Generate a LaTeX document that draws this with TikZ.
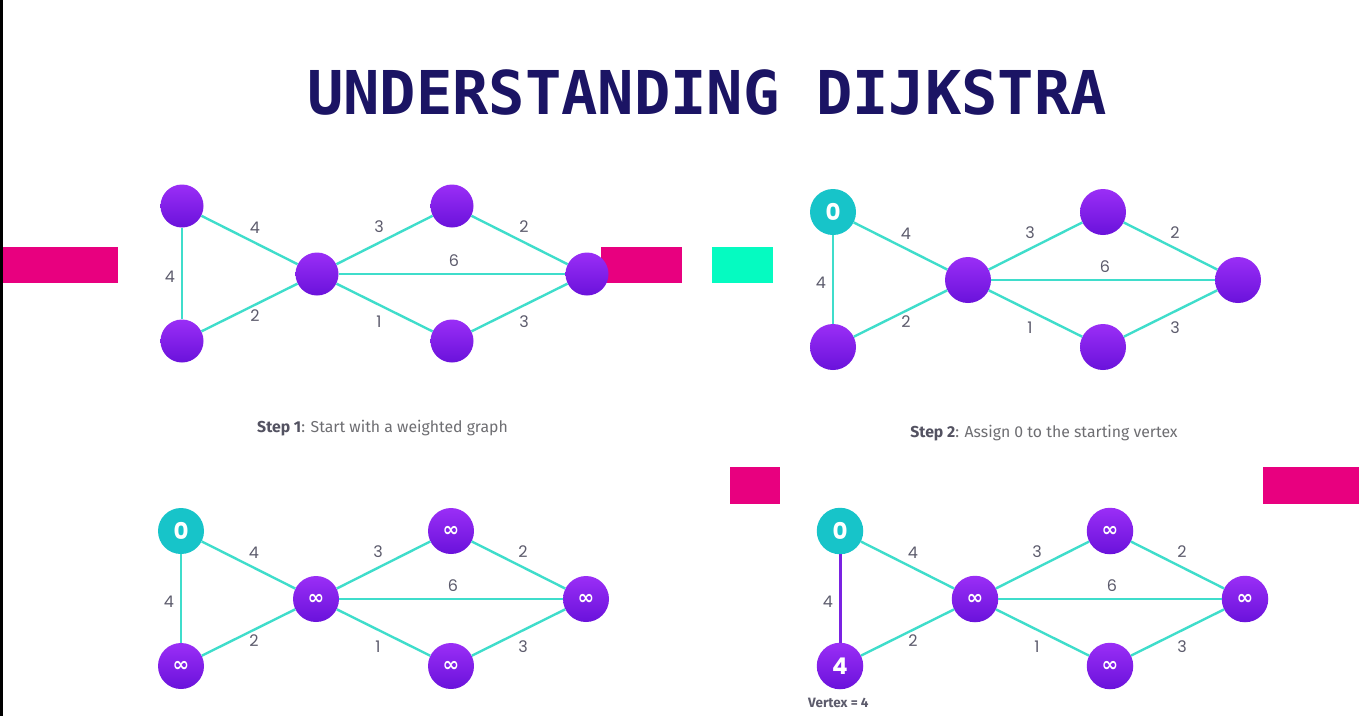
\documentclass[tikz,border=0pt]{standalone}
\usepackage{fontspec}
\setmainfont{Fira Sans}
\newfontfamily\titlefont{DejaVu Sans Mono}
\newfontfamily\numfont{Poppins}
\newfontfamily\symfont{DejaVu Sans}
\definecolor{navy}{HTML}{1B1464}
\definecolor{magenta}{HTML}{E8007F}
\definecolor{mint}{HTML}{05FBC1}
\definecolor{edgec}{HTML}{3FDDCB}
\definecolor{tealc}{HTML}{17C4C9}
\definecolor{ptop}{HTML}{9A2EF6}
\definecolor{pbot}{HTML}{6A12DB}
\definecolor{lblc}{HTML}{5C5B6C}
\definecolor{stepc}{HTML}{6E6E72}
\definecolor{pedge}{HTML}{7A22E2}
\tikzset{
  pnode/.style={circle, inner sep=0pt, top color=ptop, bottom color=pbot, draw=none, text=white},
  tnode/.style={circle, inner sep=0pt, fill=tealc, draw=none, text=white},
  edge/.style={draw=edgec, line width=2.4pt},
  pedgestyle/.style={draw=pedge, line width=3pt},
  elbl/.style={text=lblc, font=\numfont\fontsize{16}{16}\selectfont, inner sep=0pt},
  bignum/.style={font=\numfont\bfseries\fontsize{23}{23}\selectfont},
  inf/.style={font=\symfont\bfseries\fontsize{20}{20}\selectfont},
  bar/.style={fill=magenta, draw=none},
  steplbl/.style={text=stepc, font=\fontsize{15.8}{16}\selectfont, inner sep=0pt, anchor=base}
}
% #1 prefix, #2 shift, #3 styleA, #4 labelA, #5 styleB, #6 labelB, #7 other label, #8 AB edge style, #9 size
\newcommand\dgraph[9]{%
  \begin{scope}[shift={#2}]
    \node[#3, minimum size=#9] (#1a) at (182,206) {#4};
    \node[#5, minimum size=#9] (#1b) at (182,341) {#6};
    \node[pnode, inf, minimum size=#9] (#1c) at (317,274) {#7};
    \node[pnode, inf, minimum size=#9] (#1d) at (452,206) {#7};
    \node[pnode, inf, minimum size=#9] (#1e) at (452,341) {#7};
    \node[pnode, inf, minimum size=#9] (#1f) at (587,274) {#7};
    \draw[#8] (#1a) -- (#1b);
    \draw[edge] (#1a) -- (#1c);
    \draw[edge] (#1b) -- (#1c);
    \draw[edge] (#1c) -- (#1d);
    \draw[edge] (#1c) -- (#1e);
    \draw[edge] (#1c) -- (#1f);
    \draw[edge] (#1d) -- (#1f);
    \draw[edge] (#1e) -- (#1f);
    \node[elbl] (#1lac) at (255,228) {4};
    \node[elbl] (#1lab) at (170,277) {4};
    \node[elbl] (#1lbc) at (255,316) {2};
    \node[elbl] (#1lcd) at (379,227) {3};
    \node[elbl] (#1ldf) at (524,227) {2};
    \node[elbl] (#1lcf) at (454,261) {6};
    \node[elbl] (#1lce) at (379,322) {1};
    \node[elbl] (#1lef) at (524,322) {3};
  \end{scope}}
\begin{document}
\begin{tikzpicture}[x=1pt,y=-1pt]
  \useasboundingbox (0,0) rectangle (1359,716);
  \fill[white] (0,0) rectangle (1359,716);
  \fill[black] (0,0) rectangle (2.7,716);
  % coloured bars
  \path[bar] (2.7,247) rectangle (118,283);
  \path[bar] (601,247) rectangle (682,283);
  \path[fill=mint] (712,247) rectangle (773,283);
  \path[bar] (730,467) rectangle (780,504);
  \path[bar] (1263,467) rectangle (1359,504);
  % title
  \node[anchor=base, text=navy, inner sep=0pt, font=\titlefont\bfseries\fontsize{60.4}{60}\selectfont] (title) at (707,114) {UNDERSTANDING DIJKSTRA};
  % graphs
  \dgraph{g1}{(0,0)}{pnode}{}{pnode}{}{}{edge}{43pt}
  \dgraph{g2}{(651,6)}{tnode,bignum}{0}{pnode}{}{}{edge}{46pt}
  \dgraph{g3}{(-1,325)}{tnode,bignum}{0}{pnode,inf}{∞}{∞}{edge}{46pt}
  \dgraph{g4}{(658,325)}{tnode,bignum}{0}{pnode,bignum}{4}{∞}{pedgestyle}{46.5pt}
  % captions
  \node[steplbl] (cap1) at (382.5,432) {{\bfseries\color{lblc!90!black}Step 1}: Start with a weighted graph};
  \node[steplbl] (cap2) at (1044,437.5) {{\bfseries\color{lblc!90!black}Step 2}: Assign 0 to the starting vertex};
  \node[anchor=base west, inner sep=0pt, text=lblc, font=\bfseries\fontsize{13.5}{14}\selectfont] (vtx) at (808,707) {Vertex = 4};
\end{tikzpicture}
\end{document}
